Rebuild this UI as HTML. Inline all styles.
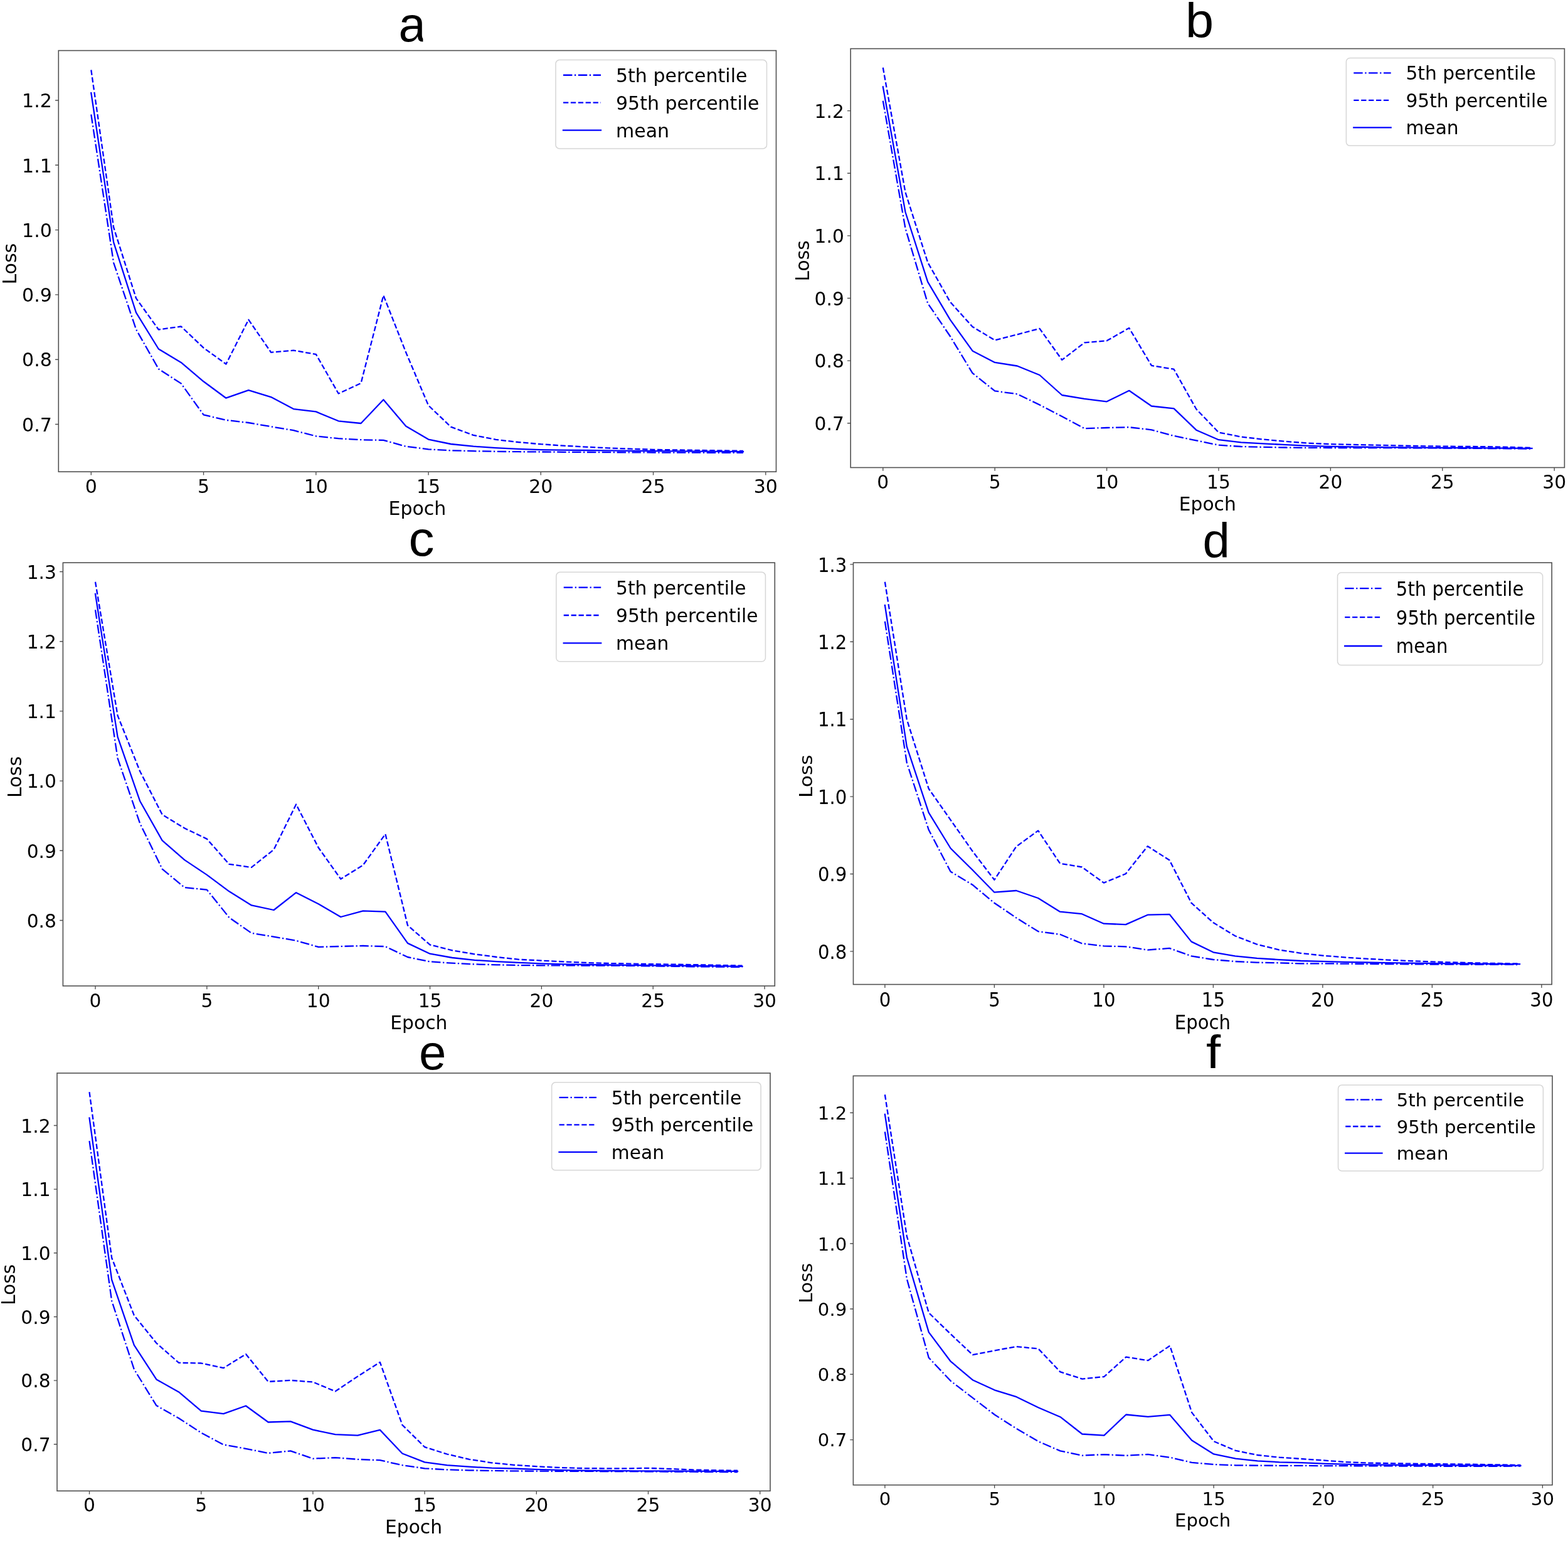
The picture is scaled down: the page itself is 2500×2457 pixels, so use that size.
<!DOCTYPE html>
<html lang="en">
<head>
<meta charset="utf-8">
<title>Loss curves</title>
<style>
html,body{margin:0;padding:0;background:#fff;}
body{width:2500px;height:2457px;overflow:hidden;}
svg{display:block;}
.dv text{font-family:"DejaVu Sans","Liberation Sans",sans-serif;fill:#000;}
.tt{font-family:"Liberation Sans","DejaVu Sans",sans-serif;font-size:78px;fill:#000;}
.ln{fill:none;stroke:#0000ff;stroke-width:2.3;stroke-linejoin:round;stroke-linecap:butt;}
.so{stroke-linecap:square;}
.dd{stroke-dasharray:14.4 3.6 2.25 3.6;}
.ds{stroke-dasharray:8.3 3.6;}
.sp{fill:none;stroke:#505050;stroke-width:1.6;}
.tk{fill:none;stroke:#505050;stroke-width:1.4;}
.lg{fill:#fff;fill-opacity:0.8;stroke:#cccccc;stroke-opacity:0.8;stroke-width:1.5;}
</style>
</head>
<body>
<svg width="2500" height="2457" viewBox="0 0 2500 2457">
<rect x="0" y="0" width="2500" height="2457" fill="#ffffff"/>
<defs><clipPath id="clip-a"><rect x="600" y="0" width="74.4" height="80"/></clipPath></defs>
<g class="panel" id="panel-a">
<polyline class="ln dd" points="145.3,182.5 181.15,419 217,525.2 252.85,588.3 288.7,611.4 324.55,661.4 360.4,669.8 396.25,674 432.1,680.2 467.95,686.2 503.8,695.4 539.65,699.2 575.5,701.2 611.35,701.9 647.2,711.8 683.05,716.3 718.9,718.3 754.75,719.2 790.6,719.8 826.45,720.2 862.3,720.5 898.15,720.8 934,721 969.85,721.2 1005.7,721.3 1041.55,721.5 1077.4,721.6 1113.25,721.7 1149.1,721.8 1184.95,721.9"/>
<polyline class="ln ds" points="145.3,111.5 181.15,362.6 217,475.6 252.85,525.5 288.7,520.5 324.55,554.6 360.4,580.5 396.25,509.7 432.1,561.8 467.95,558.7 503.8,564.9 539.65,627.5 575.5,611 611.35,471 647.2,561.8 683.05,646.4 718.9,680.7 754.75,693.8 790.6,700.9 826.45,705 862.3,708.2 898.15,710.6 934,712.6 969.85,714.4 1005.7,715.7 1041.55,716.8 1077.4,717.4 1113.25,717.9 1149.1,718.4 1184.95,718.9"/>
<polyline class="ln so" points="145.3,148.1 181.15,386.4 217,498.4 252.85,556.5 288.7,577.9 324.55,608.3 360.4,634.7 396.25,622.1 432.1,633.1 467.95,652.1 503.8,656.4 539.65,671.3 575.5,675 611.35,637.2 647.2,679.5 683.05,700.6 718.9,708 754.75,711.7 790.6,714.1 826.45,715.9 862.3,717.1 898.15,717.6 934,718 969.85,718.4 1005.7,718.8 1041.55,719.1 1077.4,719.4 1113.25,719.7 1149.1,719.9 1184.95,720.1"/>
<path class="tk" d="M145.3 752.2v5.25M324.55 752.2v5.25M503.8 752.2v5.25M683.05 752.2v5.25M862.3 752.2v5.25M1041.55 752.2v5.25M1220.8 752.2v5.25M93.3 676.5h-5.25M93.3 573.2h-5.25M93.3 469.9h-5.25M93.3 366.6h-5.25M93.3 263.3h-5.25M93.3 160h-5.25"/>
<rect class="sp" x="93.3" y="80.6" width="1144.2" height="671.6"/>
<g class="dv">
<text transform="translate(145.3 785.8) scale(1.0000 1.0000)" font-size="30" text-anchor="middle">0</text>
<text transform="translate(324.55 785.8) scale(1.0000 1.0000)" font-size="30" text-anchor="middle">5</text>
<text transform="translate(503.8 785.8) scale(1.0000 1.0000)" font-size="30" text-anchor="middle">10</text>
<text transform="translate(683.05 785.8) scale(1.0000 1.0000)" font-size="30" text-anchor="middle">15</text>
<text transform="translate(862.3 785.8) scale(1.0000 1.0000)" font-size="30" text-anchor="middle">20</text>
<text transform="translate(1041.55 785.8) scale(1.0000 1.0000)" font-size="30" text-anchor="middle">25</text>
<text transform="translate(1220.8 785.8) scale(1.0000 1.0000)" font-size="30" text-anchor="middle">30</text>
<text transform="translate(82.8 687.7) scale(1.0000 1.0000)" font-size="30" text-anchor="end">0.7</text>
<text transform="translate(82.8 584.4) scale(1.0000 1.0000)" font-size="30" text-anchor="end">0.8</text>
<text transform="translate(82.8 481.1) scale(1.0000 1.0000)" font-size="30" text-anchor="end">0.9</text>
<text transform="translate(82.8 377.8) scale(1.0000 1.0000)" font-size="30" text-anchor="end">1.0</text>
<text transform="translate(82.8 274.5) scale(1.0000 1.0000)" font-size="30" text-anchor="end">1.1</text>
<text transform="translate(82.8 171.2) scale(1.0000 1.0000)" font-size="30" text-anchor="end">1.2</text>
<text transform="translate(665.4 820.9) scale(1.0000 1.0000)" font-size="30" text-anchor="middle">Epoch</text>
<text transform="translate(26.1 420.7) scale(1.0000 1.0000) rotate(-90)" font-size="30" text-anchor="middle">Loss</text>
<rect class="lg" x="885.99" y="95.6" width="336.51" height="141.3" rx="6" ry="6"/>
<path class="ln dd" d="M897.99 119.75h60"/>
<text transform="translate(981.99 130.7) scale(1.0000 1.0000)" font-size="30" text-anchor="start">5th percentile</text>
<path class="ln ds" d="M897.99 163.7h60"/>
<text transform="translate(981.99 174.65) scale(1.0000 1.0000)" font-size="30" text-anchor="start">95th percentile</text>
<path class="ln so" d="M897.99 207.65h60"/>
<text transform="translate(981.99 218.6) scale(1.0000 1.0000)" font-size="30" text-anchor="start">mean</text>
</g>
<text class="tt" x="657.2" y="65.6" text-anchor="middle" clip-path="url(#clip-a)">a</text>
</g>
<g class="panel" id="panel-b">
<polyline class="ln dd" points="1407.8,160.7 1443.48,364 1479.16,483.5 1514.84,536 1550.52,594.9 1586.2,623.4 1621.88,628.3 1657.56,645.5 1693.24,664.1 1728.92,683.1 1764.6,682 1800.28,681.2 1835.96,685.3 1871.64,695 1907.32,702.3 1943,709.7 1978.68,712 2014.36,712.9 2050.04,713.5 2085.72,713.9 2121.4,714 2157.08,714.1 2192.76,714.1 2228.44,714.2 2264.12,714.3 2299.8,714.5 2335.48,714.8 2371.16,715 2406.84,715.3 2442.52,715.6"/>
<polyline class="ln ds" points="1407.8,107.8 1443.48,306.5 1479.16,418.3 1514.84,481.3 1550.52,521 1586.2,542.5 1621.88,533.3 1657.56,523.9 1693.24,573.8 1728.92,546.4 1764.6,543.3 1800.28,523 1835.96,582.9 1871.64,588.7 1907.32,652.3 1943,689.5 1978.68,696.5 2014.36,700.6 2050.04,703.9 2085.72,706.6 2121.4,708.1 2157.08,708.9 2192.76,709.6 2228.44,710.5 2264.12,711.2 2299.8,711.6 2335.48,711.9 2371.16,712.2 2406.84,713 2442.52,713.9"/>
<polyline class="ln so" points="1407.8,138.4 1443.48,338 1479.16,449.3 1514.84,509.7 1550.52,559.4 1586.2,577.9 1621.88,583.5 1657.56,598 1693.24,630 1728.92,635.8 1764.6,640.3 1800.28,622.8 1835.96,647.5 1871.64,651.3 1907.32,685.7 1943,701.2 1978.68,705.4 2014.36,707.4 2050.04,709.1 2085.72,710.8 2121.4,711.8 2157.08,712.5 2192.76,713 2228.44,713.4 2264.12,713.7 2299.8,714 2335.48,714.2 2371.16,714.4 2406.84,714.6 2442.52,714.8"/>
<path class="tk" d="M1407.8 745.5v5.2M1586.2 745.5v5.2M1764.6 745.5v5.2M1943 745.5v5.2M2121.4 745.5v5.2M2299.8 745.5v5.2M2478.2 745.5v5.2M1356.2 674.7h-5.2M1356.2 575.08h-5.2M1356.2 475.46h-5.2M1356.2 375.84h-5.2M1356.2 276.22h-5.2M1356.2 176.6h-5.2"/>
<rect class="sp" x="1356.2" y="77.6" width="1138.2" height="667.9"/>
<g class="dv">
<text transform="translate(1407.8 778.76) scale(0.9900 0.9900)" font-size="30" text-anchor="middle">0</text>
<text transform="translate(1586.2 778.76) scale(0.9900 0.9900)" font-size="30" text-anchor="middle">5</text>
<text transform="translate(1764.6 778.76) scale(0.9900 0.9900)" font-size="30" text-anchor="middle">10</text>
<text transform="translate(1943 778.76) scale(0.9900 0.9900)" font-size="30" text-anchor="middle">15</text>
<text transform="translate(2121.4 778.76) scale(0.9900 0.9900)" font-size="30" text-anchor="middle">20</text>
<text transform="translate(2299.8 778.76) scale(0.9900 0.9900)" font-size="30" text-anchor="middle">25</text>
<text transform="translate(2478.2 778.76) scale(0.9900 0.9900)" font-size="30" text-anchor="middle">30</text>
<text transform="translate(1345.81 685.79) scale(0.9900 0.9900)" font-size="30" text-anchor="end">0.7</text>
<text transform="translate(1345.81 586.17) scale(0.9900 0.9900)" font-size="30" text-anchor="end">0.8</text>
<text transform="translate(1345.81 486.55) scale(0.9900 0.9900)" font-size="30" text-anchor="end">0.9</text>
<text transform="translate(1345.81 386.93) scale(0.9900 0.9900)" font-size="30" text-anchor="end">1.0</text>
<text transform="translate(1345.81 287.31) scale(0.9900 0.9900)" font-size="30" text-anchor="end">1.1</text>
<text transform="translate(1345.81 187.69) scale(0.9900 0.9900)" font-size="30" text-anchor="end">1.2</text>
<text transform="translate(1925.3 813.51) scale(0.9900 0.9900)" font-size="30" text-anchor="middle">Epoch</text>
<text transform="translate(1289.67 415.85) scale(0.9900 0.9900) rotate(-90)" font-size="30" text-anchor="middle">Loss</text>
<rect class="lg" x="2146.41" y="92.45" width="333.14" height="139.89" rx="5.94" ry="5.94"/>
<path class="ln dd" d="M2158.29 116.36h59.4"/>
<text transform="translate(2241.45 127.2) scale(0.9900 0.9900)" font-size="30" text-anchor="start">5th percentile</text>
<path class="ln ds" d="M2158.29 159.87h59.4"/>
<text transform="translate(2241.45 170.71) scale(0.9900 0.9900)" font-size="30" text-anchor="start">95th percentile</text>
<path class="ln so" d="M2158.29 203.38h59.4"/>
<text transform="translate(2241.45 214.22) scale(0.9900 0.9900)" font-size="30" text-anchor="start">mean</text>
</g>
<text class="tt" transform="translate(1912.5 59.8) scale(1.04 1.0)" text-anchor="middle">b</text>
</g>
<g class="panel" id="panel-c">
<polyline class="ln dd" points="152,972.4 187.57,1209 223.14,1312.8 258.71,1385.6 294.28,1415.1 329.85,1418.6 365.42,1463 400.99,1487.8 436.56,1493.6 472.13,1499.8 507.7,1509.9 543.27,1508.9 578.84,1508 614.41,1509.1 649.98,1526 685.55,1533.3 721.12,1535.7 756.69,1537.4 792.26,1538.3 827.83,1539.1 863.4,1539.3 898.97,1539.4 934.54,1539.5 970.11,1539.6 1005.68,1539.8 1041.25,1540.3 1076.82,1540.8 1112.39,1541.3 1147.96,1541.6 1183.53,1541.9"/>
<polyline class="ln ds" points="152,927.8 187.57,1140.9 223.14,1229.7 258.71,1298.9 294.28,1320.5 329.85,1337.6 365.42,1377.9 400.99,1382.9 436.56,1354.6 472.13,1282.5 507.7,1351.5 543.27,1401.5 578.84,1379.4 614.41,1329.8 649.98,1475.4 685.55,1506.4 721.12,1515.3 756.69,1521.3 792.26,1526 827.83,1529.8 863.4,1531.6 898.97,1533.4 934.54,1534.9 970.11,1536 1005.68,1536.6 1041.25,1537.2 1076.82,1537.7 1112.39,1538.2 1147.96,1539 1183.53,1539.7"/>
<polyline class="ln so" points="152,947 187.57,1174.9 223.14,1277.2 258.71,1340.2 294.28,1371.1 329.85,1394.9 365.42,1421.3 400.99,1443.4 436.56,1451 472.13,1423.2 507.7,1441.3 543.27,1462 578.84,1452.3 614.41,1453.7 649.98,1503.9 685.55,1520.7 721.12,1527 756.69,1530.8 792.26,1533.2 827.83,1534.9 863.4,1536.3 898.97,1537.3 934.54,1538 970.11,1538.5 1005.68,1538.9 1041.25,1539.3 1076.82,1539.7 1112.39,1540 1147.96,1540.4 1183.53,1540.8"/>
<path class="tk" d="M152 1572v5.29M329.85 1572v5.29M507.7 1572v5.29M685.55 1572v5.29M863.4 1572v5.29M1041.25 1572v5.29M1219.1 1572v5.29M100.4 1467.5h-5.2M100.4 1356.3h-5.2M100.4 1245.1h-5.2M100.4 1133.9h-5.2M100.4 1022.7h-5.2M100.4 911.5h-5.2"/>
<rect class="sp" x="100.4" y="897.2" width="1134.9" height="674.8"/>
<g class="dv">
<text transform="translate(152 1605.88) scale(0.9913 1.0083)" font-size="30" text-anchor="middle">0</text>
<text transform="translate(329.85 1605.88) scale(0.9913 1.0083)" font-size="30" text-anchor="middle">5</text>
<text transform="translate(507.7 1605.88) scale(0.9913 1.0083)" font-size="30" text-anchor="middle">10</text>
<text transform="translate(685.55 1605.88) scale(0.9913 1.0083)" font-size="30" text-anchor="middle">15</text>
<text transform="translate(863.4 1605.88) scale(0.9913 1.0083)" font-size="30" text-anchor="middle">20</text>
<text transform="translate(1041.25 1605.88) scale(0.9913 1.0083)" font-size="30" text-anchor="middle">25</text>
<text transform="translate(1219.1 1605.88) scale(0.9913 1.0083)" font-size="30" text-anchor="middle">30</text>
<text transform="translate(89.99 1478.79) scale(0.9913 1.0083)" font-size="30" text-anchor="end">0.8</text>
<text transform="translate(89.99 1367.59) scale(0.9913 1.0083)" font-size="30" text-anchor="end">0.9</text>
<text transform="translate(89.99 1256.39) scale(0.9913 1.0083)" font-size="30" text-anchor="end">1.0</text>
<text transform="translate(89.99 1145.19) scale(0.9913 1.0083)" font-size="30" text-anchor="end">1.1</text>
<text transform="translate(89.99 1033.99) scale(0.9913 1.0083)" font-size="30" text-anchor="end">1.2</text>
<text transform="translate(89.99 922.79) scale(0.9913 1.0083)" font-size="30" text-anchor="end">1.3</text>
<text transform="translate(667.85 1641.27) scale(0.9913 1.0083)" font-size="30" text-anchor="middle">Epoch</text>
<text transform="translate(33.78 1238.9) scale(0.9913 1.0083) rotate(-90)" font-size="30" text-anchor="middle">Loss</text>
<rect class="lg" x="886.84" y="912.33" width="333.59" height="142.48" rx="5.95" ry="6.05"/>
<path class="ln dd" d="M898.73 936.68h59.48"/>
<text transform="translate(982 947.72) scale(0.9913 1.0083)" font-size="30" text-anchor="start">5th percentile</text>
<path class="ln ds" d="M898.73 980.99h59.48"/>
<text transform="translate(982 992.03) scale(0.9913 1.0083)" font-size="30" text-anchor="start">95th percentile</text>
<path class="ln so" d="M898.73 1025.31h59.48"/>
<text transform="translate(982 1036.35) scale(0.9913 1.0083)" font-size="30" text-anchor="start">mean</text>
</g>
<text class="tt" transform="translate(672 885.6) scale(1.05 1.0)" text-anchor="middle">c</text>
</g>
<g class="panel" id="panel-d">
<polyline class="ln dd" points="1410.9,990.8 1445.8,1216 1480.7,1323 1515.6,1389.7 1550.5,1410.7 1585.4,1439.7 1620.3,1463.4 1655.2,1485.1 1690.1,1489.8 1725,1504.3 1759.9,1508.4 1794.8,1509.3 1829.7,1514.6 1864.6,1511.9 1899.5,1524.3 1934.4,1530 1969.3,1533 2004.2,1534.6 2039.1,1535.3 2074,1536.3 2108.9,1536.3 2143.8,1536.6 2178.7,1536.9 2213.6,1537.1 2248.5,1537.3 2283.4,1537.5 2318.3,1537.7 2353.2,1537.8 2388.1,1537.9 2423,1538"/>
<polyline class="ln ds" points="1410.9,927.8 1445.8,1147 1480.7,1257.5 1515.6,1307.3 1550.5,1357.1 1585.4,1402.9 1620.3,1349.8 1655.2,1324.4 1690.1,1376.7 1725,1382.5 1759.9,1407.6 1794.8,1393.2 1829.7,1349.2 1864.6,1371.5 1899.5,1439.7 1934.4,1471 1969.3,1492.3 2004.2,1505.7 2039.1,1514.4 2074,1519.8 2108.9,1523.6 2143.8,1526.4 2178.7,1528.6 2213.6,1530.6 2248.5,1532.1 2283.4,1533.4 2318.3,1534.5 2353.2,1535.4 2388.1,1536 2423,1536.5"/>
<polyline class="ln so" points="1410.9,965 1445.8,1190.4 1480.7,1295.7 1515.6,1352.5 1550.5,1387 1585.4,1422.7 1620.3,1420 1655.2,1432 1690.1,1453.7 1725,1457.2 1759.9,1472.7 1794.8,1474.1 1829.7,1458.7 1864.6,1457.8 1899.5,1501.4 1934.4,1518.3 1969.3,1524.3 2004.2,1527.8 2039.1,1530.1 2074,1532 2108.9,1532.9 2143.8,1533.8 2178.7,1534.5 2213.6,1535.1 2248.5,1535.6 2283.4,1536 2318.3,1536.4 2353.2,1536.7 2388.1,1537 2423,1537.2"/>
<path class="tk" d="M1410.9 1569.6v5.49M1585.4 1569.6v5.49M1759.9 1569.6v5.49M1934.4 1569.6v5.49M2108.9 1569.6v5.49M2283.4 1569.6v5.49M2457.9 1569.6v5.49M1360.5 1516.9h-5.1M1360.5 1393.5h-5.1M1360.5 1270.1h-5.1M1360.5 1146.7h-5.1M1360.5 1023.3h-5.1M1360.5 899.9h-5.1"/>
<rect class="sp" x="1360.5" y="897.2" width="1113.7" height="672.4"/>
<g class="dv">
<text transform="translate(1410.9 1604.72) scale(0.9720 1.0453)" font-size="30" text-anchor="middle">0</text>
<text transform="translate(1585.4 1604.72) scale(0.9720 1.0453)" font-size="30" text-anchor="middle">5</text>
<text transform="translate(1759.9 1604.72) scale(0.9720 1.0453)" font-size="30" text-anchor="middle">10</text>
<text transform="translate(1934.4 1604.72) scale(0.9720 1.0453)" font-size="30" text-anchor="middle">15</text>
<text transform="translate(2108.9 1604.72) scale(0.9720 1.0453)" font-size="30" text-anchor="middle">20</text>
<text transform="translate(2283.4 1604.72) scale(0.9720 1.0453)" font-size="30" text-anchor="middle">25</text>
<text transform="translate(2457.9 1604.72) scale(0.9720 1.0453)" font-size="30" text-anchor="middle">30</text>
<text transform="translate(1350.29 1528.61) scale(0.9720 1.0453)" font-size="30" text-anchor="end">0.8</text>
<text transform="translate(1350.29 1405.21) scale(0.9720 1.0453)" font-size="30" text-anchor="end">0.9</text>
<text transform="translate(1350.29 1281.81) scale(0.9720 1.0453)" font-size="30" text-anchor="end">1.0</text>
<text transform="translate(1350.29 1158.41) scale(0.9720 1.0453)" font-size="30" text-anchor="end">1.1</text>
<text transform="translate(1350.29 1035.01) scale(0.9720 1.0453)" font-size="30" text-anchor="end">1.2</text>
<text transform="translate(1350.29 911.61) scale(0.9720 1.0453)" font-size="30" text-anchor="end">1.3</text>
<text transform="translate(1917.35 1641.41) scale(0.9720 1.0453)" font-size="30" text-anchor="middle">Epoch</text>
<text transform="translate(1295.18 1237.7) scale(0.9720 1.0453) rotate(-90)" font-size="30" text-anchor="middle">Loss</text>
<rect class="lg" x="2132.53" y="912.88" width="327.09" height="147.71" rx="5.83" ry="6.27"/>
<path class="ln dd" d="M2144.2 938.12h58.32"/>
<text transform="translate(2225.84 949.57) scale(0.9720 1.0453)" font-size="30" text-anchor="start">5th percentile</text>
<path class="ln ds" d="M2144.2 984.07h58.32"/>
<text transform="translate(2225.84 995.51) scale(0.9720 1.0453)" font-size="30" text-anchor="start">95th percentile</text>
<path class="ln so" d="M2144.2 1030.01h58.32"/>
<text transform="translate(2225.84 1041.46) scale(0.9720 1.0453)" font-size="30" text-anchor="start">mean</text>
</g>
<text class="tt" x="1939.2" y="889.2" text-anchor="middle">d</text>
</g>
<g class="panel" id="panel-e">
<polyline class="ln dd" points="142.5,1819.2 178.14,2074 213.78,2183.2 249.42,2241.1 285.06,2261.3 320.7,2284.4 356.34,2303.4 391.98,2309.8 427.62,2316.9 463.26,2313.4 498.9,2325.7 534.54,2324.1 570.18,2326.8 605.82,2328.2 641.46,2336.1 677.1,2341.3 712.74,2343.3 748.38,2344.3 784.02,2344.9 819.66,2345.4 855.3,2345.6 890.94,2345.8 926.58,2345.9 962.22,2346 997.86,2346.1 1033.5,2346.3 1069.14,2346.5 1104.78,2346.7 1140.42,2346.9 1176.06,2347.1"/>
<polyline class="ln ds" points="142.5,1741.2 178.14,2005.5 213.78,2097.2 249.42,2141.5 285.06,2172.9 320.7,2173.5 356.34,2181.2 391.98,2159.1 427.62,2202.9 463.26,2200.8 498.9,2203.5 534.54,2218.4 570.18,2194.6 605.82,2171.9 641.46,2272 677.1,2307.2 712.74,2318.5 748.38,2326.8 784.02,2332.3 819.66,2335.8 855.3,2338.1 890.94,2339.9 926.58,2341 962.22,2341.3 997.86,2341.4 1033.5,2340.8 1069.14,2342 1104.78,2343.5 1140.42,2344.2 1176.06,2344.7"/>
<polyline class="ln so" points="142.5,1782.5 178.14,2040.4 213.78,2144.7 249.42,2199.4 285.06,2219.4 320.7,2249.7 356.34,2254.1 391.98,2241.5 427.62,2267.5 463.26,2266.3 498.9,2279.7 534.54,2287.1 570.18,2288.6 605.82,2279.9 641.46,2317.5 677.1,2331.4 712.74,2336.1 748.38,2338.7 784.02,2340.6 819.66,2341.5 855.3,2342.8 890.94,2343.9 926.58,2344.6 962.22,2345 997.86,2345.2 1033.5,2345.4 1069.14,2345.5 1104.78,2345.6 1140.42,2345.8 1176.06,2345.9"/>
<path class="tk" d="M142.5 2377.2v5.2M320.7 2377.2v5.2M498.9 2377.2v5.2M677.1 2377.2v5.2M855.3 2377.2v5.2M1033.5 2377.2v5.2M1211.7 2377.2v5.2M91 2302.8h-5.2M91 2201.14h-5.2M91 2099.48h-5.2M91 1997.82h-5.2M91 1896.16h-5.2M91 1794.5h-5.2"/>
<rect class="sp" x="91" y="1711" width="1137" height="666.2"/>
<g class="dv">
<text transform="translate(142.5 2410.49) scale(0.9910 0.9907)" font-size="30" text-anchor="middle">0</text>
<text transform="translate(320.7 2410.49) scale(0.9910 0.9907)" font-size="30" text-anchor="middle">5</text>
<text transform="translate(498.9 2410.49) scale(0.9910 0.9907)" font-size="30" text-anchor="middle">10</text>
<text transform="translate(677.1 2410.49) scale(0.9910 0.9907)" font-size="30" text-anchor="middle">15</text>
<text transform="translate(855.3 2410.49) scale(0.9910 0.9907)" font-size="30" text-anchor="middle">20</text>
<text transform="translate(1033.5 2410.49) scale(0.9910 0.9907)" font-size="30" text-anchor="middle">25</text>
<text transform="translate(1211.7 2410.49) scale(0.9910 0.9907)" font-size="30" text-anchor="middle">30</text>
<text transform="translate(80.59 2313.9) scale(0.9910 0.9907)" font-size="30" text-anchor="end">0.7</text>
<text transform="translate(80.59 2212.24) scale(0.9910 0.9907)" font-size="30" text-anchor="end">0.8</text>
<text transform="translate(80.59 2110.58) scale(0.9910 0.9907)" font-size="30" text-anchor="end">0.9</text>
<text transform="translate(80.59 2008.92) scale(0.9910 0.9907)" font-size="30" text-anchor="end">1.0</text>
<text transform="translate(80.59 1907.26) scale(0.9910 0.9907)" font-size="30" text-anchor="end">1.1</text>
<text transform="translate(80.59 1805.6) scale(0.9910 0.9907)" font-size="30" text-anchor="end">1.2</text>
<text transform="translate(659.5 2445.26) scale(0.9910 0.9907)" font-size="30" text-anchor="middle">Epoch</text>
<text transform="translate(24.4 2048.4) scale(0.9910 0.9907) rotate(-90)" font-size="30" text-anchor="middle">Loss</text>
<rect class="lg" x="879.65" y="1725.86" width="333.48" height="139.98" rx="5.95" ry="5.94"/>
<path class="ln dd" d="M891.55 1749.78h59.46"/>
<text transform="translate(974.79 1760.63) scale(0.9910 0.9907)" font-size="30" text-anchor="start">5th percentile</text>
<path class="ln ds" d="M891.55 1793.32h59.46"/>
<text transform="translate(974.79 1804.17) scale(0.9910 0.9907)" font-size="30" text-anchor="start">95th percentile</text>
<path class="ln so" d="M891.55 1836.86h59.46"/>
<text transform="translate(974.79 1847.71) scale(0.9910 0.9907)" font-size="30" text-anchor="start">mean</text>
</g>
<text class="tt" x="689.7" y="1705" text-anchor="middle">e</text>
</g>
<g class="panel" id="panel-f">
<polyline class="ln dd" points="1410.9,1804.5 1445.85,2039 1480.8,2164.8 1515.75,2201.8 1550.7,2228.7 1585.65,2255.5 1620.6,2277.8 1655.55,2298.3 1690.5,2313.4 1725.45,2320.6 1760.4,2319.1 1795.35,2320.8 1830.3,2318.9 1865.25,2323.7 1900.2,2331.9 1935.15,2335 1970.1,2336.3 2005.05,2336.6 2040,2336.8 2074.95,2336.9 2109.9,2337.1 2144.85,2337.2 2179.8,2337.3 2214.75,2337.4 2249.7,2337.6 2284.65,2337.7 2319.6,2337.8 2354.55,2337.9 2389.5,2337.8 2424.45,2337.6"/>
<polyline class="ln ds" points="1410.9,1745.3 1445.85,1971 1480.8,2093.1 1515.75,2127.1 1550.7,2160.1 1585.65,2153.4 1620.6,2147 1655.55,2150.5 1690.5,2187.4 1725.45,2198.6 1760.4,2195 1795.35,2163.6 1830.3,2169.2 1865.25,2145.7 1900.2,2252.1 1935.15,2298 1970.1,2312.9 2005.05,2320 2040,2323.7 2074.95,2326 2109.9,2328.4 2144.85,2331 2179.8,2332.5 2214.75,2333.2 2249.7,2333.7 2284.65,2334.1 2319.6,2334.4 2354.55,2334.8 2389.5,2335.4 2424.45,2336"/>
<polyline class="ln so" points="1410.9,1776.7 1445.85,2005 1480.8,2124.1 1515.75,2170.7 1550.7,2200.2 1585.65,2216.3 1620.6,2227.2 1655.55,2244.2 1690.5,2259.2 1725.45,2286.5 1760.4,2288.6 1795.35,2255.5 1830.3,2258.8 1865.25,2255.9 1900.2,2296.6 1935.15,2318.4 1970.1,2325.7 2005.05,2329.3 2040,2331.3 2074.95,2332.2 2109.9,2333.6 2144.85,2334.6 2179.8,2335.3 2214.75,2335.7 2249.7,2336 2284.65,2336.2 2319.6,2336.4 2354.55,2336.5 2389.5,2336.7 2424.45,2336.8"/>
<path class="tk" d="M1410.9 2367.7v5.09M1585.65 2367.7v5.09M1760.4 2367.7v5.09M1935.15 2367.7v5.09M2109.9 2367.7v5.09M2284.65 2367.7v5.09M2459.4 2367.7v5.09M1360.4 2295.6h-5.1M1360.4 2191.32h-5.1M1360.4 2087.04h-5.1M1360.4 1982.76h-5.1M1360.4 1878.48h-5.1M1360.4 1774.2h-5.1"/>
<rect class="sp" x="1360.4" y="1715.4" width="1114.6" height="652.3"/>
<g class="dv">
<text transform="translate(1410.9 2400.28) scale(0.9713 0.9697)" font-size="30" text-anchor="middle">0</text>
<text transform="translate(1585.65 2400.28) scale(0.9713 0.9697)" font-size="30" text-anchor="middle">5</text>
<text transform="translate(1760.4 2400.28) scale(0.9713 0.9697)" font-size="30" text-anchor="middle">10</text>
<text transform="translate(1935.15 2400.28) scale(0.9713 0.9697)" font-size="30" text-anchor="middle">15</text>
<text transform="translate(2109.9 2400.28) scale(0.9713 0.9697)" font-size="30" text-anchor="middle">20</text>
<text transform="translate(2284.65 2400.28) scale(0.9713 0.9697)" font-size="30" text-anchor="middle">25</text>
<text transform="translate(2459.4 2400.28) scale(0.9713 0.9697)" font-size="30" text-anchor="middle">30</text>
<text transform="translate(1350.2 2306.46) scale(0.9713 0.9697)" font-size="30" text-anchor="end">0.7</text>
<text transform="translate(1350.2 2202.18) scale(0.9713 0.9697)" font-size="30" text-anchor="end">0.8</text>
<text transform="translate(1350.2 2097.9) scale(0.9713 0.9697)" font-size="30" text-anchor="end">0.9</text>
<text transform="translate(1350.2 1993.62) scale(0.9713 0.9697)" font-size="30" text-anchor="end">1.0</text>
<text transform="translate(1350.2 1889.34) scale(0.9713 0.9697)" font-size="30" text-anchor="end">1.1</text>
<text transform="translate(1350.2 1785.06) scale(0.9713 0.9697)" font-size="30" text-anchor="end">1.2</text>
<text transform="translate(1917.7 2434.32) scale(0.9713 0.9697)" font-size="30" text-anchor="middle">Epoch</text>
<text transform="translate(1295.13 2045.85) scale(0.9713 0.9697) rotate(-90)" font-size="30" text-anchor="middle">Loss</text>
<rect class="lg" x="2133.57" y="1729.95" width="326.86" height="137.01" rx="5.83" ry="5.82"/>
<path class="ln dd" d="M2145.22 1753.36h58.28"/>
<text transform="translate(2226.81 1763.98) scale(0.9713 0.9697)" font-size="30" text-anchor="start">5th percentile</text>
<path class="ln ds" d="M2145.22 1795.98h58.28"/>
<text transform="translate(2226.81 1806.6) scale(0.9713 0.9697)" font-size="30" text-anchor="start">95th percentile</text>
<path class="ln so" d="M2145.22 1838.6h58.28"/>
<text transform="translate(2226.81 1849.21) scale(0.9713 0.9697)" font-size="30" text-anchor="start">mean</text>
</g>
<text class="tt" transform="translate(1934.5 1702.7) scale(1.07 0.945)" text-anchor="middle">f</text>
</g>
</svg>
</body>
</html>
